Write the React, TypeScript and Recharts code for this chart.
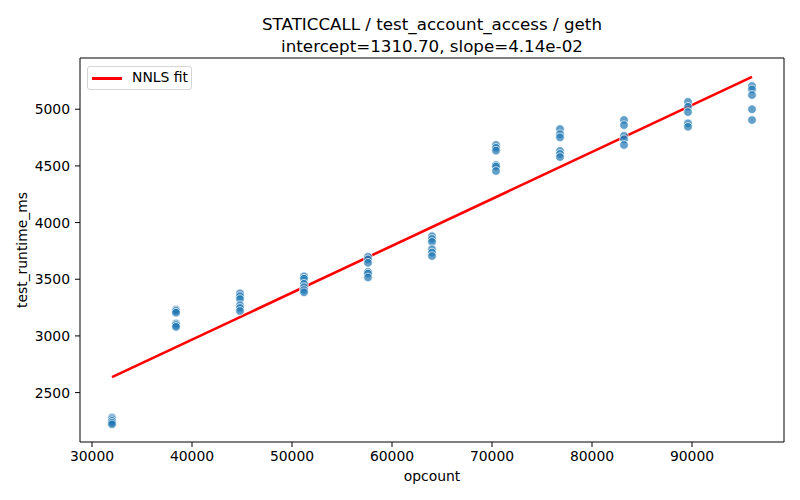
import {
  ComposedChart,
  Scatter,
  Line,
  XAxis,
  YAxis,
  ReferenceLine,
} from "recharts";

const opcounts = [32000, 38400, 44800, 51200, 57600, 64000, 70400, 76800, 83200, 89600, 96000];

const runtimes: number[][] = [
  [2280, 2265, 2250, 2235, 2220],
  [3232, 3220, 3205, 3110, 3095, 3080],
  [3375, 3350, 3325, 3270, 3247, 3220],
  [3525, 3505, 3460, 3430, 3405, 3385],
  [3698, 3675, 3645, 3565, 3550, 3516],
  [3880, 3855, 3830, 3765, 3735, 3705],
  [4685, 4660, 4635, 4508, 4495, 4455],
  [4825, 4780, 4752, 4632, 4605, 4578],
  [4905, 4860, 4765, 4735, 4685],
  [5065, 5022, 4975, 4875, 4845],
  [5205, 5175, 5125, 5000, 4905],
];

const fitX = [32000, 96000];
const fitY = [2636, 5285];

const xTicks = [30000, 40000, 50000, 60000, 70000, 80000, 90000];
const yTicks = [2500, 3000, 3500, 4000, 4500, 5000];

const points = opcounts.flatMap((x, i) => runtimes[i].map((y) => ({ x, y })));
const fit = fitX.map((x, i) => ({ x, y: fitY[i] }));

const font = "'DejaVu Sans', sans-serif";

const Dot = (props: any) => (
  <circle
    cx={props.cx}
    cy={props.cy}
    r={4.3}
    fill="#1f77b4"
    fillOpacity={0.7}
    stroke="#fff"
    strokeWidth={0.7}
  />
);

const tickStyle = { fill: "#000", fontSize: 13.9, fontFamily: font };

export default function App() {
  return (
    <div style={{ position: "fixed", top: 0, left: 0, width: 800, height: 500, background: "#fff" }}>
      <ComposedChart
        width={800}
        height={500}
        margin={{ top: 58, right: 16, bottom: 0, left: 0 }}
      >
        <XAxis
          dataKey="x"
          type="number"
          domain={[28800, 99200]}
          ticks={xTicks}
          height={58}
          tickSize={5}
          tickMargin={4}
          stroke="#000"
          tick={tickStyle}
          allowDataOverflow
        />
        <YAxis
          dataKey="y"
          type="number"
          domain={[2064, 5452]}
          ticks={yTicks}
          width={80}
          tickSize={5}
          tickMargin={5}
          stroke="#000"
          tick={tickStyle}
          allowDataOverflow
        />
        <ReferenceLine y={5452} stroke="#000" />
        <ReferenceLine x={99200} stroke="#000" />
        <Scatter data={points} dataKey="y" shape={Dot} isAnimationActive={false} />
        <Line
          data={fit}
          dataKey="y"
          stroke="#ff0000"
          strokeWidth={2.6}
          dot={false}
          isAnimationActive={false}
        />
      </ComposedChart>

      {/* title, two lines */}
      <div
        style={{
          position: "absolute",
          top: 13,
          left: 82,
          width: 700,
          textAlign: "center",
          fontFamily: font,
          fontSize: 16.7,
          lineHeight: "22px",
          color: "#000",
        }}
      >
        <div>STATICCALL / test_account_access / geth</div>
        <div>intercept=1310.70, slope=4.14e-02</div>
      </div>

      <div
        style={{
          position: "absolute",
          top: 468,
          left: 82,
          width: 700,
          textAlign: "center",
          fontFamily: font,
          fontSize: 13.9,
        }}
      >
        opcount
      </div>

      <div
        style={{
          position: "absolute",
          top: 250,
          left: 22,
          transform: "translate(-50%, -50%) rotate(-90deg)",
          fontFamily: font,
          fontSize: 13.9,
          whiteSpace: "nowrap",
        }}
      >
        test_runtime_ms
      </div>

      {/* legend box */}
      <div
        style={{
          position: "absolute",
          top: 66,
          left: 87,
          width: 105,
          height: 24,
          border: "1px solid #d5d5d5",
          borderRadius: 3,
          background: "rgba(255,255,255,0.8)",
          boxSizing: "border-box",
          fontFamily: font,
          fontSize: 13.9,
        }}
      >
        <div style={{ position: "absolute", left: 4, top: 10, width: 30, height: 2.6, background: "#ff0000" }} />
        <div style={{ position: "absolute", left: 44, top: 2, whiteSpace: "nowrap" }}>NNLS fit</div>
      </div>
    </div>
  );
}
